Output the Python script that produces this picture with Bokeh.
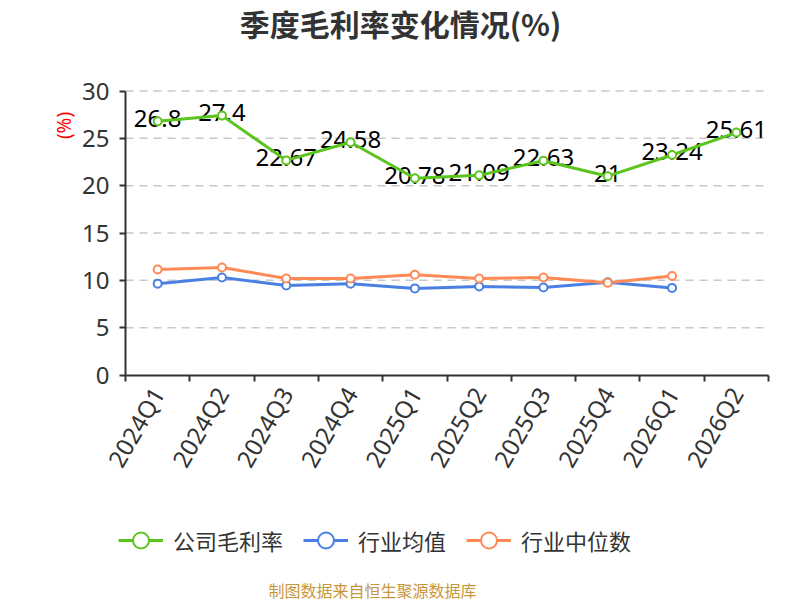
import math
from bokeh.plotting import figure
from bokeh.models import Range1d, FixedTicker, Label, Legend, LegendItem, ColumnDataSource
from bokeh.core.properties import value
from bokeh.embed import file_html
from bokeh.resources import INLINE

# ---- data ----
quarters = ["2024Q1", "2024Q2", "2024Q3", "2024Q4", "2025Q1",
            "2025Q2", "2025Q3", "2025Q4", "2026Q1", "2026Q2"]
gross_margin = [26.8, 27.4, 22.67, 24.58, 20.78, 21.09, 22.63, 21.0, 23.24, 25.61]
industry_avg = [9.65, 10.3, 9.45, 9.65, 9.15, 9.35, 9.25, 9.8, 9.2]
industry_median = [11.15, 11.35, 10.2, 10.2, 10.6, 10.2, 10.3, 9.75, 10.45]
y_ticks = [0, 5, 10, 15, 20, 25, 30]
series_names = ["公司毛利率", "行业均值", "行业中位数"]
title_text = "季度毛利率变化情况(%)"
unit_text = "(%)"
source_text = "制图数据来自恒生聚源数据库"

# ---- style ----
GREEN = "#5BC41E"
BLUE = "#4A7FE3"
ORANGE = "#FF8A55"
TXT = "#333333"
NUM_FONT = "Noto Sans"
CJK_FONT = "Noto Sans CJK SC"
W, H = 800, 600
# pixel placement of the plotting area inside the canvas
PX_LEFT, PX_RIGHT, PX_TOP, PX_BOTTOM = 125.0, 768.0, 90.5, 374.5

n_cat = len(quarters)
y_min, y_max = y_ticks[0], y_ticks[-1]
ux = (PX_RIGHT - PX_LEFT) / n_cat
uy = (PX_BOTTOM - PX_TOP) / (y_max - y_min)
x_range = Range1d(-PX_LEFT / ux, n_cat + (W - PX_RIGHT) / ux)
y_range = Range1d(y_min - (H - PX_BOTTOM) / uy, y_max + PX_TOP / uy)

xs_all = [i + 0.5 for i in range(n_cat)]
n_ind = len(industry_avg)

p = figure(width=W, height=H, output_backend="svg", toolbar_location=None,
           x_range=x_range, y_range=y_range, min_border=0)
p.outline_line_color = None
p.background_fill_color = "white"
p.border_fill_color = "white"
p.xgrid.visible = False
p.ygrid.visible = False

# y axis
ya = p.yaxis[0]
ya.fixed_location = 0
ya.bounds = (y_min, y_max)
ya.ticker = FixedTicker(ticks=y_ticks)
ya.axis_line_color = TXT
ya.axis_line_width = 2
ya.major_tick_line_color = TXT
ya.major_tick_line_width = 2
ya.major_tick_out = 6
ya.major_tick_in = 0
ya.minor_tick_line_color = None
ya.major_label_text_font = NUM_FONT
ya.major_label_text_font_size = "24px"
ya.major_label_text_color = TXT
ya.major_label_standoff = 10

# x axis: ticks at category boundaries, labels at centres
xa = p.xaxis[0]
xa.fixed_location = y_min
xa.bounds = (0, n_cat)
xa.ticker = FixedTicker(ticks=xs_all, minor_ticks=list(range(n_cat + 1)))
xa.major_label_overrides = {x: q for x, q in zip(xs_all, quarters)}
xa.axis_line_color = TXT
xa.axis_line_width = 2
xa.major_tick_line_color = None
xa.major_tick_out = 0
xa.major_tick_in = 0
xa.minor_tick_line_color = TXT
xa.minor_tick_line_width = 2
xa.minor_tick_out = 6
xa.minor_tick_in = 0
xa.major_label_orientation = math.pi / 3
xa.major_label_text_font = NUM_FONT
xa.major_label_text_font_size = "24px"
xa.major_label_text_color = TXT
xa.major_label_standoff = 8

# dashed horizontal grid lines over the category span
grid_vals = y_ticks[1:]
p.segment(x0=[0] * len(grid_vals), x1=[n_cat] * len(grid_vals), y0=grid_vals,
          y1=grid_vals, line_color="#C8C8C8", line_width=1.5, line_dash="8 6")

# data labels (under the lines)
src_g = ColumnDataSource(dict(x=xs_all, y=gross_margin,
                              t=[f"{v:g}" for v in gross_margin]))
p.text(x="x", y="y", text="t", source=src_g, text_font=value(NUM_FONT),
       text_font_size="24px", text_color="#000000", text_align="center",
       text_baseline="middle", y_offset=-3)

lb = p.line(xs_all[:n_ind], industry_avg, line_color=BLUE, line_width=3)
lo = p.line(xs_all[:n_ind], industry_median, line_color=ORANGE, line_width=3)
lg = p.line(xs_all, gross_margin, line_color=GREEN, line_width=3)
sb = p.scatter(xs_all[:n_ind], industry_avg, size=8, fill_color="white",
               line_color=BLUE, line_width=2)
so = p.scatter(xs_all[:n_ind], industry_median, size=8, fill_color="white",
               line_color=ORANGE, line_width=2)
sg = p.scatter(xs_all, gross_margin, size=8, fill_color="white",
               line_color=GREEN, line_width=2)

leg_items = [LegendItem(label=series_names[0], renderers=[lg, sg]),
             LegendItem(label=series_names[1], renderers=[lb, sb]),
             LegendItem(label=series_names[2], renderers=[lo, so])]

legend = Legend(items=leg_items, orientation="horizontal", location=(118, 40),
                glyph_width=45, glyph_height=40, label_standoff=10, spacing=20,
                padding=0, margin=0, border_line_color=None,
                background_fill_alpha=0,
                label_text_font=CJK_FONT, label_text_font_size="22px",
                label_text_color=TXT, label_text_baseline="middle")
p.add_layout(legend, "center")

p.add_layout(Label(x=400, y=H - 22, x_units="screen", y_units="screen",
                   text=title_text, text_font=CJK_FONT, text_font_size="30px",
                   text_font_style="bold", text_color=TXT,
                   text_align="center", text_baseline="middle"))
p.add_layout(Label(x=63, y=H - 125, x_units="screen", y_units="screen",
                   text=unit_text, angle=math.pi / 2, text_font=NUM_FONT,
                   text_font_size="19px", text_color="#FF0000",
                   text_align="center", text_baseline="middle"))
p.add_layout(Label(x=372, y=H - 589, x_units="screen", y_units="screen",
                   text=source_text, text_font=CJK_FONT, text_font_size="16px",
                   text_color="#C8963A", text_align="center",
                   text_baseline="middle"))

open("out.html", "w").write(file_html(p, INLINE))
